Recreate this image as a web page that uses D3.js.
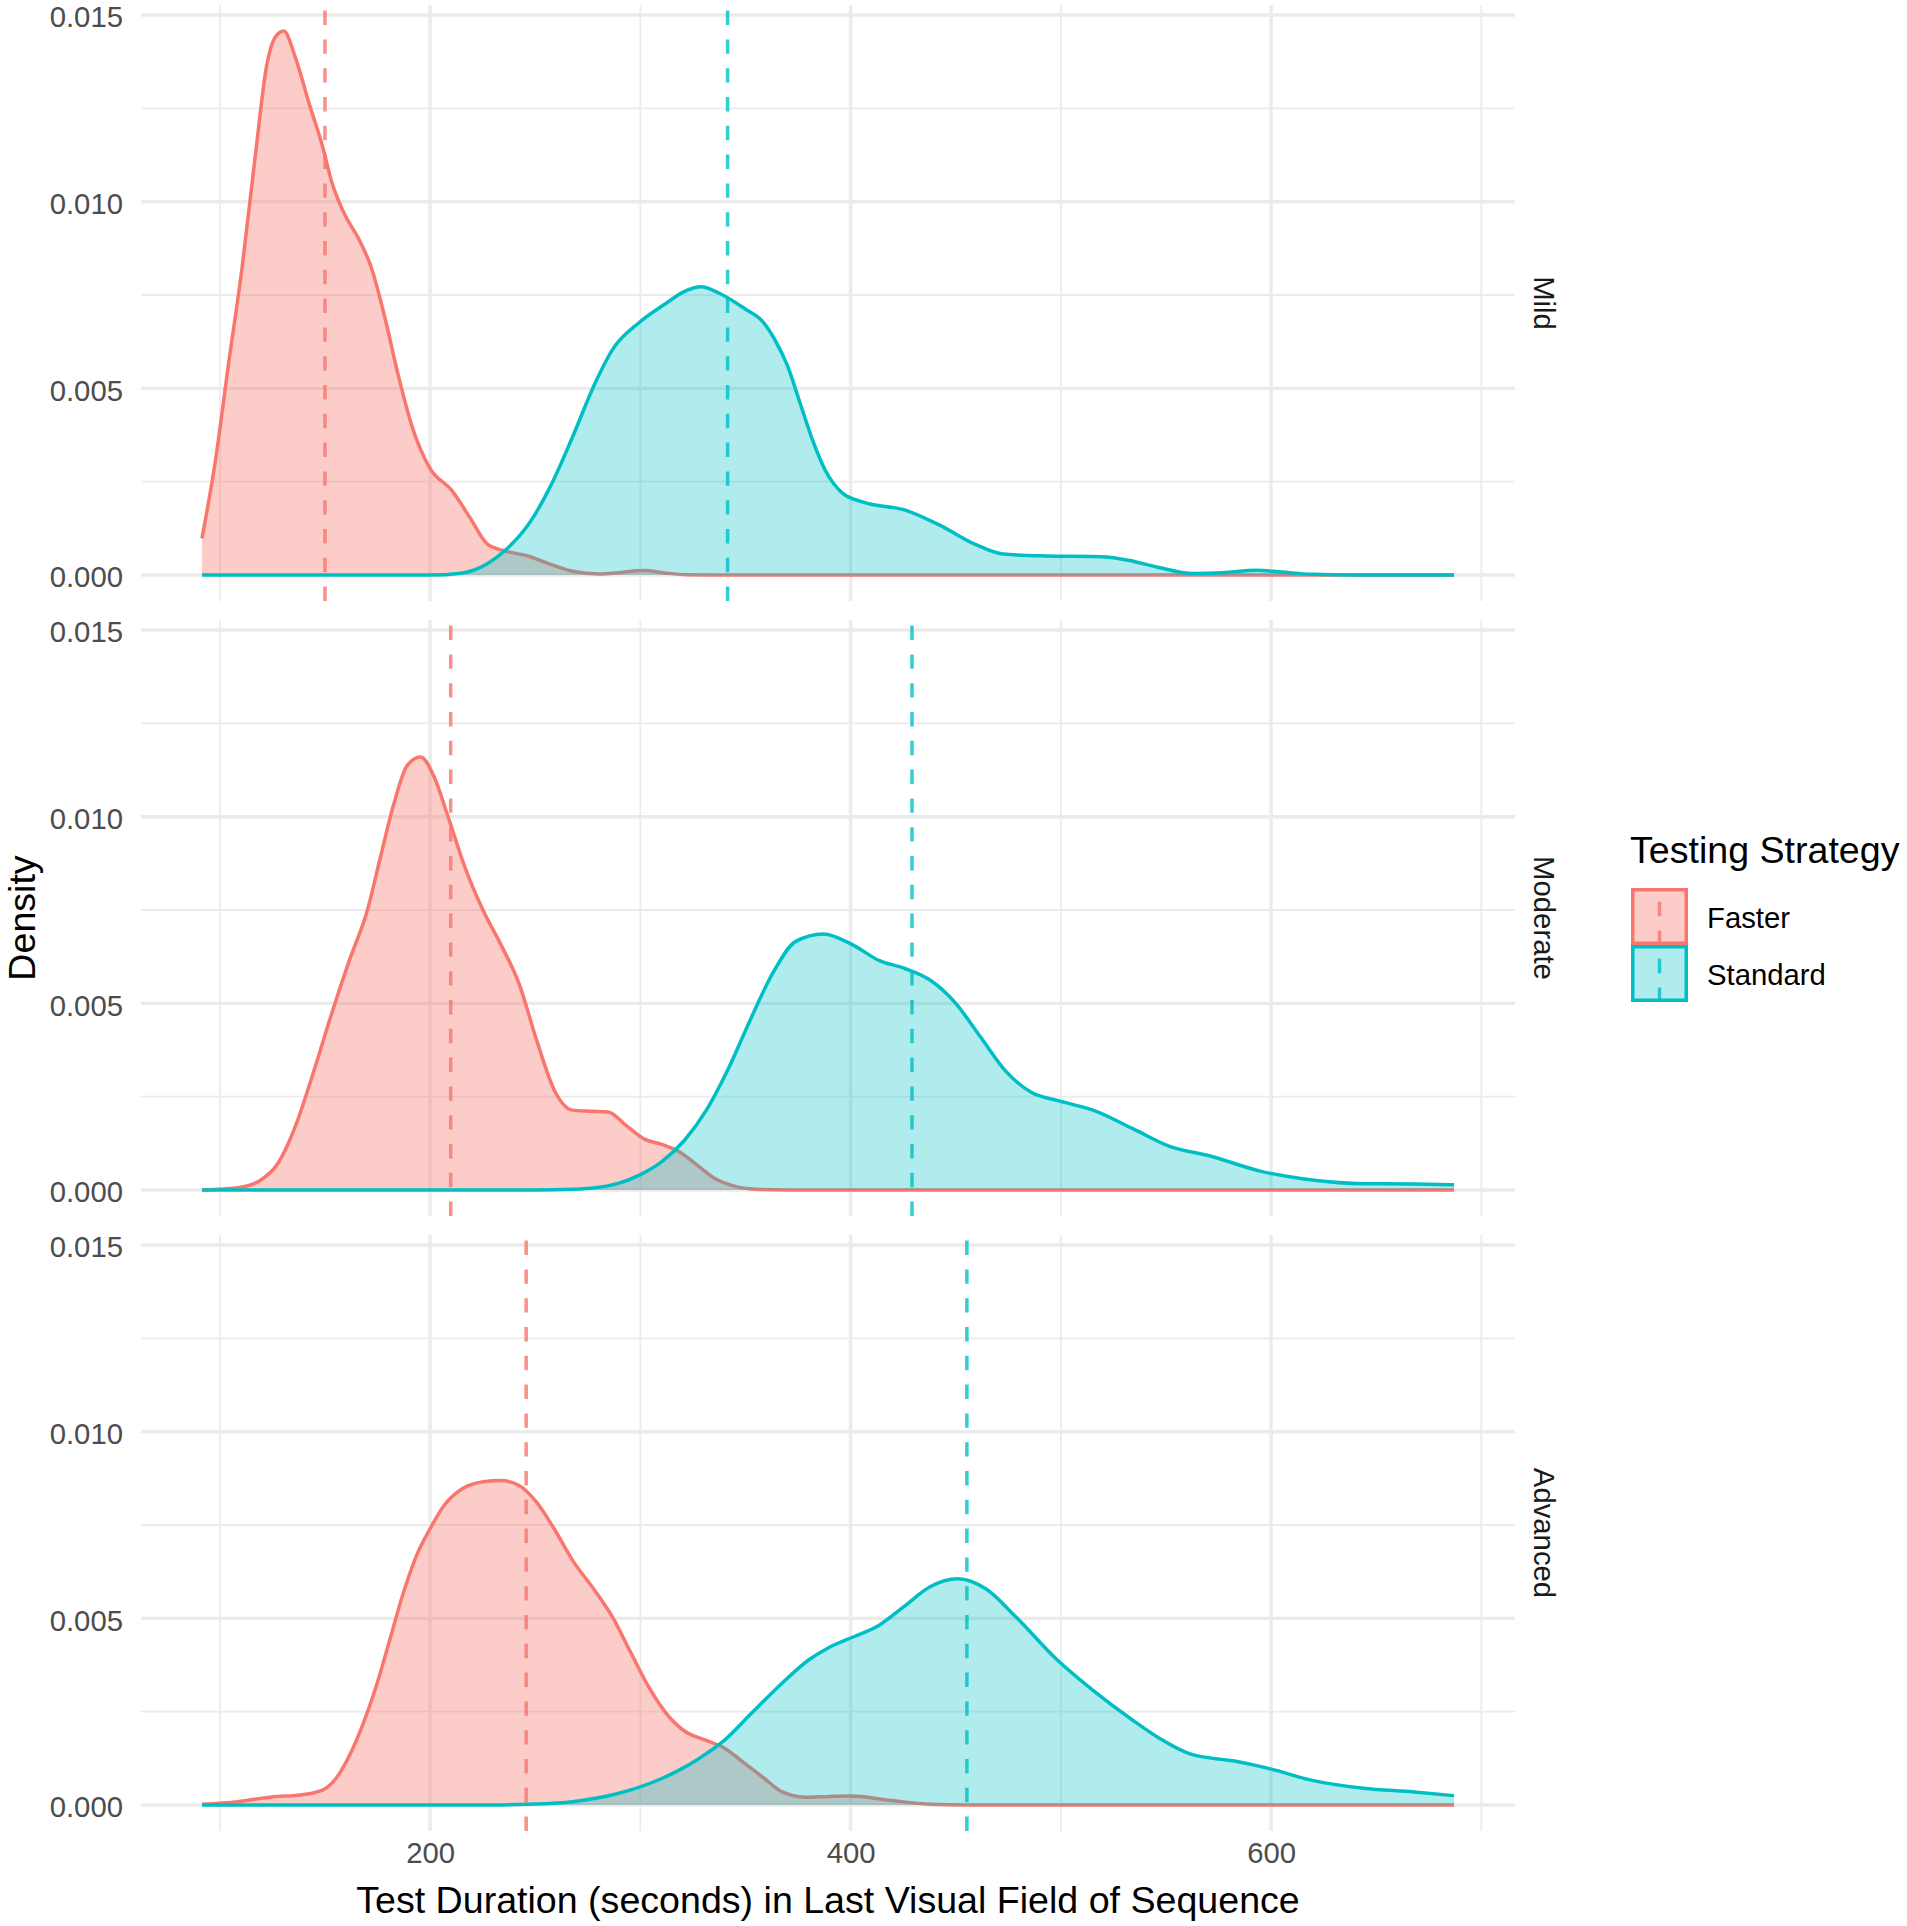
<!DOCTYPE html>
<html>
<head>
<meta charset="utf-8">
<script src="https://cdn.jsdelivr.net/npm/d3@7"></script>
<style>
  html, body { margin: 0; padding: 0; background: #ffffff; }
  svg text { font-family: "Liberation Sans", Arial, Helvetica, sans-serif; }
</style>
</head>
<body>
<svg id="chart" width="1907" height="1926"></svg>
<script>
// ---------------- DATA ----------------
const panels = ["Mild", "Moderate", "Advanced"];
const groups = ["Faster", "Standard"];
const xTicksMajor = [200, 400, 600];
const xTicksMinor = [100, 300, 500, 700];
const yTicksMajor = [0, 0.005, 0.010, 0.015];
const yTicksMinor = [0.0025, 0.0075, 0.0125];

// density curves: [seconds, density]
const mildFaster = [[91.5,0.00098],[98,0.0031],[104,0.0056],[110.5,0.0082],[117,0.0113],[122.3,0.01365],[126.5,0.01442],[130.4,0.01457],[136,0.01385],[142.5,0.01262],[148.8,0.01149],[153,0.01057],[159.5,0.00964],[165.8,0.00903],[172.2,0.00821],[178.6,0.00687],[184.9,0.00534],[191.3,0.0040],[199.8,0.00287],[210.4,0.00226],[218.9,0.00154],[227.4,0.00082],[235.9,0.00064],[246.5,0.00051],[257.1,0.00029],[267.7,0.0001],[280.5,0.00003],[291,0.00007],[301.7,0.00012],[312.3,0.00005],[322,0.00001],[340,0],[687,0]];
const mildStandard = [[91.5,0],[200,0],[214.7,0.00005],[227.4,0.00031],[235.9,0.00067],[246.5,0.00133],[257.1,0.00236],[267.7,0.00369],[278.4,0.00513],[286.9,0.00605],[299.6,0.00677],[312.3,0.00728],[320.8,0.00759],[328.7,0.00772],[337.8,0.00754],[350,0.00712],[358,0.0068],[364,0.0063],[370,0.0056],[376,0.0046],[382,0.0036],[388,0.0028],[396,0.0022],[406,0.00195],[426,0.00174],[442.6,0.00133],[459.3,0.00082],[472.6,0.00056],[492.7,0.00051],[519.4,0.00049],[532.7,0.00039],[546,0.00021],[562.8,0.00004],[577,0.00006],[592.8,0.00013],[605,0.00008],[619.5,0.00002],[640,0],[687,0]];
const moderateFaster = [[91.5,0],[108.5,0.00006],[119,0.00025],[127.6,0.00071],[136.1,0.00173],[144.6,0.00317],[153.1,0.00471],[161.6,0.00615],[170.1,0.00748],[176.4,0.00892],[182.8,0.01035],[189.2,0.01138],[195.5,0.0116],[201.9,0.01107],[208.3,0.01004],[216.8,0.00861],[225.3,0.00748],[233.8,0.00656],[242.3,0.00553],[250.8,0.00399],[259.2,0.00266],[267.7,0.00214],[276.2,0.00211],[284.7,0.00209],[293.2,0.00173],[301.7,0.00137],[310.2,0.00122],[318.7,0.00102],[327.2,0.00066],[335.7,0.0003],[344.2,0.00011],[354.8,0.00002],[370,0],[687,0]];
const moderateStandard = [[91.5,0],[250,0],[267.7,0.00002],[278.4,0.00006],[289,0.00017],[299.6,0.0004],[310.2,0.00076],[320.8,0.00132],[331.4,0.00214],[342,0.00327],[352.7,0.00461],[363.3,0.00584],[373.9,0.00666],[387,0.00686],[401.2,0.00656],[413.4,0.00615],[425.5,0.00594],[437.6,0.00563],[449.7,0.00502],[461.9,0.00409],[474,0.00317],[486.1,0.00261],[498.2,0.0024],[515.3,0.00214],[534.7,0.00163],[551.7,0.00117],[571,0.00091],[595.3,0.0005],[619.5,0.00027],[643.8,0.00017],[668,0.00016],[687,0.00014]];
const advancedFaster = [[91.5,0.00002],[108.5,0.00009],[125.5,0.00022],[138.2,0.00027],[148.8,0.0004],[155.2,0.00071],[161.6,0.00132],[167.9,0.00214],[174.3,0.00317],[180.7,0.0044],[187,0.00563],[193.4,0.00666],[199.8,0.00738],[206.2,0.00799],[214.7,0.00845],[225.3,0.00866],[233.8,0.00869],[242.3,0.00856],[250.8,0.0081],[259.2,0.00738],[267.7,0.00656],[278.4,0.00574],[286.9,0.00502],[295.4,0.00409],[303.9,0.00317],[312.4,0.00245],[320.8,0.00199],[331.4,0.00173],[339.9,0.00153],[348.4,0.00117],[359,0.00071],[367.5,0.00035],[378.2,0.00021],[390,0.00023],[400,0.00024],[418.2,0.00013],[437.6,0.00002],[455,0],[687,0]];
const advancedStandard = [[91.5,0],[230,0],[246.5,0.00002],[267.7,0.00009],[288.9,0.0003],[310.2,0.00071],[327.2,0.00122],[339.9,0.00173],[352.7,0.00245],[367.5,0.00327],[380.2,0.00389],[389.1,0.0042],[401.2,0.0045],[413.4,0.00481],[425.5,0.00532],[437.6,0.00584],[451,0.00606],[464.3,0.00579],[478.9,0.00502],[498.2,0.00389],[515.3,0.00307],[534.7,0.00225],[546.8,0.00179],[561.4,0.00137],[583.2,0.00117],[600.2,0.00096],[619.5,0.00066],[643.8,0.00045],[668,0.00035],[687,0.00025]];

// group means (dashed lines), per panel
const meanFaster = [150, 209.8, 245.7];
const meanStandard = [341.5, 429.2, 455.3];

const xTitle = "Test Duration (seconds) in Last Visual Field of Sequence";
const yTitle = "Density";
const legendTitle = "Testing Strategy";

// ---------------- LAYOUT / STYLE ----------------
const curves = {
  Mild: { Faster: mildFaster, Standard: mildStandard },
  Moderate: { Faster: moderateFaster, Standard: moderateStandard },
  Advanced: { Faster: advancedFaster, Standard: advancedStandard }
};
const means = { Faster: meanFaster, Standard: meanStandard };
const colors = { Faster: "#F8766D", Standard: "#00BFC4" };
const fillAlpha = { Faster: 0.37, Standard: 0.31 };

const panelLeft = 141, panelRight = 1515;
const panelTops = [5, 620, 1235];
const panelH = 596;
const FONT_BASE = 37.6, FONT_SMALL = 29.3;

const svg = d3.select("#chart");

const x = d3.scaleLinear().domain([62.5, 716]).range([panelLeft, panelRight]);
const y = d3.scaleLinear().domain([-0.000696, 0.015268]).range([panelH, 0]);
const color = d3.scaleOrdinal().domain(groups).range(groups.map(g => colors[g]));

const area = d3.area().x(d => x(d[0])).y0(y(0)).y1(d => y(d[1])).curve(d3.curveMonotoneX);
const line = d3.line().x(d => x(d[0])).y(d => y(d[1])).curve(d3.curveMonotoneX);

panels.forEach((p, i) => {
  const g = svg.append("g").attr("transform", `translate(0,${panelTops[i]})`);

  // grid: minor then major
  g.selectAll(".vmin").data(xTicksMinor).join("line")
    .attr("x1", d => x(d)).attr("x2", d => x(d)).attr("y1", 0).attr("y2", panelH)
    .attr("stroke", "#EBEBEB").attr("stroke-width", 1.8);
  g.selectAll(".hmin").data(yTicksMinor).join("line")
    .attr("x1", panelLeft).attr("x2", panelRight).attr("y1", d => y(d)).attr("y2", d => y(d))
    .attr("stroke", "#EBEBEB").attr("stroke-width", 1.8);
  g.selectAll(".vmaj").data(xTicksMajor).join("line")
    .attr("x1", d => x(d)).attr("x2", d => x(d)).attr("y1", 0).attr("y2", panelH)
    .attr("stroke", "#EBEBEB").attr("stroke-width", 3.4);
  g.selectAll(".hmaj").data(yTicksMajor).join("line")
    .attr("x1", panelLeft).attr("x2", panelRight).attr("y1", d => y(d)).attr("y2", d => y(d))
    .attr("stroke", "#EBEBEB").attr("stroke-width", 3.4);

  // densities
  groups.forEach(grp => {
    const data = curves[p][grp];
    g.append("path").datum(data).attr("d", area)
      .attr("fill", color(grp)).attr("fill-opacity", fillAlpha[grp]).attr("stroke", "none");
    g.append("path").datum(data).attr("d", line)
      .attr("fill", "none").attr("stroke", color(grp)).attr("stroke-width", 3.5)
      .attr("stroke-linejoin", "round");
  });

  // mean lines (dashed), drawn from bottom to top
  groups.forEach(grp => {
    const m = means[grp][i];
    g.append("line")
      .attr("x1", x(m)).attr("x2", x(m)).attr("y1", panelH).attr("y2", 0)
      .attr("stroke", color(grp)).attr("stroke-opacity", 0.8)
      .attr("stroke-width", 3.5).attr("stroke-dasharray", "14.4 14.4");
  });

  // y axis labels
  const yAxis = d3.axisLeft(y).tickValues(yTicksMajor).tickFormat(d3.format(".3f"))
    .tickSize(0).tickPadding(18);
  const ya = g.append("g").attr("transform", `translate(${panelLeft},0)`).call(yAxis);
  ya.select(".domain").remove();
  ya.selectAll("text").attr("fill", "#4D4D4D").attr("dy", "0.4em")
    .style("font-size", FONT_SMALL + "px")
    .style("font-family", '"Liberation Sans", Arial, Helvetica, sans-serif');

  // strip label
  g.append("text")
    .attr("transform", `translate(1534,${panelH / 2}) rotate(90)`)
    .attr("text-anchor", "middle")
    .attr("fill", "#1A1A1A")
    .style("font-size", FONT_SMALL + "px")
    .text(p);
});

// x axis (bottom panel)
const xAxis = d3.axisBottom(x).tickValues(xTicksMajor).tickFormat(d3.format("d"))
  .tickSize(0).tickPadding(11);
const xa = svg.append("g").attr("transform", `translate(0,${panelTops[2] + panelH})`).call(xAxis);
xa.select(".domain").remove();
xa.selectAll("text").attr("fill", "#4D4D4D")
  .style("font-size", FONT_SMALL + "px")
  .style("font-family", '"Liberation Sans", Arial, Helvetica, sans-serif');

// axis titles
svg.append("text")
  .attr("x", (panelLeft + panelRight) / 2).attr("y", 1913)
  .attr("text-anchor", "middle").attr("fill", "#000")
  .style("font-size", FONT_BASE + "px")
  .text(xTitle);

svg.append("text")
  .attr("transform", `translate(35,${(panelTops[0] + panelTops[2] + panelH) / 2}) rotate(-90)`)
  .attr("text-anchor", "middle").attr("fill", "#000")
  .style("font-size", FONT_BASE + "px")
  .text(yTitle);

// legend
const lg = svg.append("g");
lg.append("text").attr("x", 1630).attr("y", 863)
  .attr("fill", "#000").style("font-size", FONT_BASE + "px").text(legendTitle);

const keyTop = 888, keySize = 57, keyLeft = 1631;
groups.forEach((grp, k) => {
  const ky = keyTop + k * keySize;
  lg.append("rect")
    .attr("x", keyLeft + 1.75).attr("y", ky + 1.75)
    .attr("width", keySize - 3.5).attr("height", keySize - 3.5)
    .attr("fill", color(grp)).attr("fill-opacity", fillAlpha[grp])
    .attr("stroke", color(grp)).attr("stroke-width", 3.5);
  lg.append("line")
    .attr("x1", keyLeft + keySize / 2).attr("x2", keyLeft + keySize / 2)
    .attr("y1", ky + keySize).attr("y2", ky)
    .attr("stroke", color(grp)).attr("stroke-opacity", 0.8)
    .attr("stroke-width", 3.5).attr("stroke-dasharray", "14.4 14.4");
  lg.append("text")
    .attr("x", 1707).attr("y", ky + keySize / 2 + 11)
    .attr("fill", "#000").style("font-size", FONT_SMALL + "px")
    .text(grp);
});
</script>
</body>
</html>
